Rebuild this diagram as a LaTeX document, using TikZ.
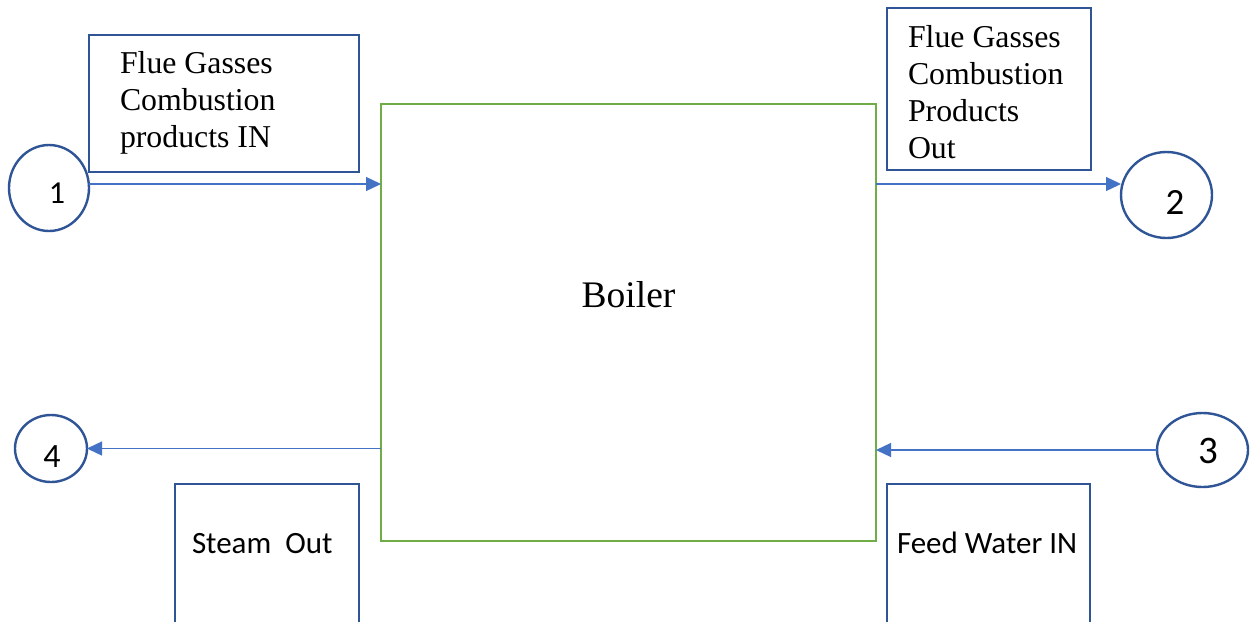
\documentclass[tikz,border=0pt]{standalone}
\usepackage{fontspec}
\setmainfont{Liberation Serif}
\newfontfamily\calibri{Carlito}
\usetikzlibrary{arrows.meta,shapes.geometric}
\definecolor{boxblue}{HTML}{2F5597}
\definecolor{flowblue}{HTML}{4472C4}
\definecolor{boilergreen}{HTML}{70AD47}

\begin{document}
\begin{tikzpicture}[x=1pt,y=-1pt,
  every node/.style={inner sep=0pt, outer sep=0pt},
  infobox/.style={draw=boxblue, line width=2.8pt, rectangle, anchor=north west},
  port/.style={draw=boxblue, line width=2.4pt, ellipse},
  flow/.style={draw=flowblue, line width=1.3pt, -{Triangle[length=15pt,width=14pt]}},
  % multi-line notes are anchored at the baseline of their last line
  serifnote/.style={font=\fontsize{31.8}{36.8}\selectfont, align=left, anchor=base west},
  sansnote/.style={font=\calibri\fontsize{31}{37}\selectfont, anchor=base west},
  digit/.style={anchor=base},
]
\useasboundingbox (0,0) rectangle (1252,621);
\fill[white] (0,0) rectangle (1252,621);
\clip (0,0) rectangle (1252,621);

% boiler
\node[draw=boilergreen, line width=2.6pt, minimum width=495pt, minimum height=437pt,
      anchor=north west] (boiler) at (381,104) {};
\node[font=\fontsize{37.5}{44}\selectfont, anchor=base] (boilerlabel) at (628.5,307) {Boiler};

% stream description boxes
\node[infobox, minimum width=270pt, minimum height=137pt] (gasinbox) at (89,35) {};
\node[serifnote] (gasintext) at (120,147) {Flue Gasses\\Combustion\\products IN};

\node[infobox, minimum width=204pt, minimum height=162pt] (gasoutbox) at (887,8) {};
\node[serifnote] (gasouttext) at (908,158) {Flue Gasses\\Combustion\\Products\\Out};

\node[infobox, minimum width=184pt, minimum height=170pt] (steambox) at (175,484) {};
\node[sansnote] (steamtext) at (192,553) {Steam~~Out};

\node[infobox, minimum width=203pt, minimum height=170pt] (feedbox) at (887,484) {};
\node[sansnote] (feedtext) at (897,553) {Feed Water IN};

% state points
\node[port, minimum width=80pt, minimum height=86pt] (c1) at (49,188) {};
\node[port, minimum width=91pt, minimum height=86pt] (c2) at (1166.5,195) {};
\node[port, minimum width=91pt, minimum height=74pt] (c3) at (1202.5,450) {};
\node[port, minimum width=72pt, minimum height=67pt] (c4) at (51,448.5) {};

\node[digit, font=\calibri\fontsize{32}{32}\selectfont] (n1) at (57,203) {1};
\node[digit, font=\calibri\fontsize{37}{37}\selectfont] (n2) at (1175,214) {2};
\node[digit, font=\calibri\fontsize{39}{39}\selectfont] (n3) at (1208,463) {3};
\node[digit, font=\calibri\fontsize{34}{34}\selectfont] (n4) at (52,467) {4};

% flows
\coordinate (gasline) at (0,184);
\draw[flow] (c1.east |- gasline) -- (boiler.west |- gasline);
\draw[flow] (boiler.east |- gasline) -- (c2.west |- gasline);
\draw[flow] (c3.west) -- (boiler.east |- c3.west);
\draw[flow] (boiler.west |- c4.east) -- (c4.east);
\end{tikzpicture}
\end{document}
